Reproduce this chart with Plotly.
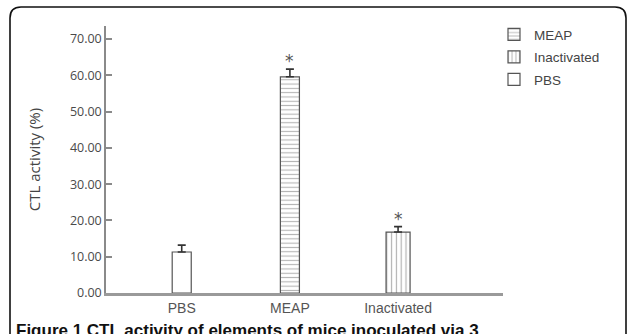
import plotly.graph_objects as go

categories = ["PBS", "MEAP", "Inactivated"]
values = [11.3, 59.6, 16.8]
errors = [1.9, 2.1, 1.5]
legend_order = ["MEAP", "Inactivated", "PBS"]
significant = ["MEAP", "Inactivated"]
y_ticks = [0, 10, 20, 30, 40, 50, 60, 70]

W, H = 627, 334
L, R, T, B = 106, 124, 26, 41
PW, PH = W - L - R, H - T - B

styles = {
    "PBS": dict(shape="", width=0.176),
    "MEAP": dict(shape="-", width=0.176),
    "Inactivated": dict(shape="|", width=0.222),
}

fig = go.Figure()
for name in legend_order:
    i = categories.index(name)
    st = styles[name]
    marker = dict(color="white", line=dict(color="#555555", width=1.2))
    if st["shape"]:
        marker["pattern"] = dict(shape=st["shape"], fgcolor="#666666", bgcolor="white",
                                 size=4.3 if st["shape"] == "-" else 4.8, solidity=0.25)
    fig.add_trace(go.Bar(
        x=[name], y=[values[i]], name=name, width=st["width"], legendgroup=name,
        marker=marker,
        error_y=dict(type="data", array=[errors[i]], arrayminus=[0], symmetric=False,
                     color="#333333", thickness=1.6, width=4),
    ))

for c in significant:
    i = categories.index(c)
    fig.add_annotation(x=c, y=values[i] + errors[i], text="*", showarrow=False,
                       yanchor="bottom", yshift=-4,
                       font=dict(size=17, color="#555555", family="DejaVu Sans"))

def px(x):
    return (x - L) / PW

def py(y):
    return (H - B - y) / PH

x0, y0, x1, y1 = 10, 7, 626, 350
r = 11
path = (f"M {px(x0)},{py(y1)} L {px(x0)},{py(y0 + r)} "
        f"Q {px(x0)},{py(y0)} {px(x0 + r)},{py(y0)} "
        f"L {px(x1 - r)},{py(y0)} Q {px(x1)},{py(y0)} {px(x1)},{py(y0 + r)} "
        f"L {px(x1)},{py(y1)}")
fig.add_shape(type="path", path=path, xref="paper", yref="paper",
              line=dict(color="#111111", width=1.6))

fig.add_annotation(
    x=px(14), y=py(319), xref="paper", yref="paper", xanchor="left", yanchor="top",
    text="<b>Figure 1 CTL activity of elements of mice inoculated via 3</b>",
    showarrow=False, font=dict(size=17, color="#111111", family="Liberation Sans"),
)

fig.update_layout(
    width=W, height=H,
    margin=dict(l=L, r=R, t=T, b=B),
    paper_bgcolor="white", plot_bgcolor="white",
    barmode="overlay",
    showlegend=True,
    legend=dict(x=px(494), y=py(19), xanchor="left", yanchor="top",
                font=dict(size=13.5, color="#444444", family="Liberation Sans"),
                bgcolor="rgba(0,0,0,0)", tracegroupgap=2, itemwidth=30),
    xaxis=dict(
        categoryorder="array", categoryarray=categories,
        range=[-0.70, 2.97], showgrid=False, zeroline=False,
        showline=True, linecolor="#9a9a9a", linewidth=2.5,
        ticks="", tickfont=dict(size=14, color="#555555", family="Liberation Sans"),
    ),
    yaxis=dict(
        range=[0, 73.6], tickvals=y_ticks, tickformat=".2f",
        showgrid=False, zeroline=False,
        showline=True, linecolor="#8a8a8a", linewidth=1.5,
        ticks="inside", ticklen=6, tickcolor="#8a8a8a", tickwidth=1.5,
        tickfont=dict(size=12.5, color="#4a4a4a", family="Open Sans"),
        title=dict(text="CTL activity (%)", standoff=26,
                   font=dict(size=15, color="#444444", family="Open Sans")),
    ),
)

fig.write_html("out.html", config={"displayModeBar": False},
               post_script="document.body.style.margin='0';")
